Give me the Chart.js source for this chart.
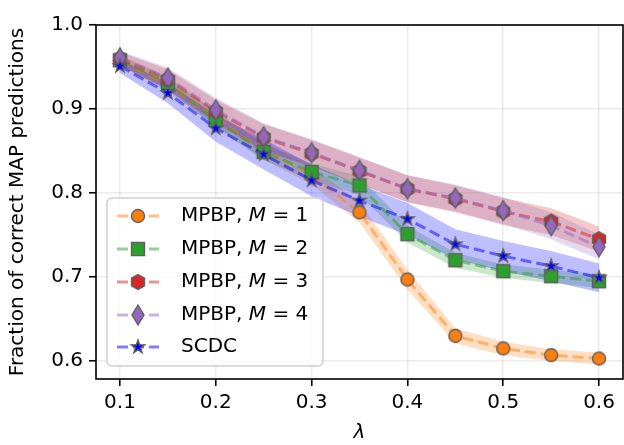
<!DOCTYPE html>
<html>
<head>
<meta charset="utf-8">
<script src="https://cdn.jsdelivr.net/npm/chart.js@4.4.1/dist/chart.umd.min.js"></script>
<style>
  html, body { margin: 0; padding: 0; background: #fff; }
  #wrap { width: 624px; height: 445px; }
</style>
</head>
<body>
<div id="wrap"><canvas id="chart" width="624" height="445"></canvas></div>
<script>
// lambda values (x axis)
const lambdas = [0.1, 0.15, 0.2, 0.25, 0.3, 0.35, 0.4, 0.45, 0.5, 0.55, 0.6];

// mean fraction of correct MAP predictions
const mpbp1 = [0.957, 0.929, 0.889, 0.850, 0.821, 0.777, 0.697, 0.630, 0.615, 0.607, 0.603];
const mpbp2 = [0.958, 0.931, 0.887, 0.849, 0.825, 0.809, 0.751, 0.720, 0.707, 0.701, 0.695];
const mpbp3 = [0.960, 0.935, 0.897, 0.866, 0.847, 0.826, 0.805, 0.793, 0.778, 0.766, 0.745];
const mpbp4 = [0.961, 0.937, 0.899, 0.867, 0.848, 0.827, 0.805, 0.794, 0.779, 0.761, 0.736];
const scdc = [0.951, 0.919, 0.877, 0.846, 0.815, 0.791, 0.769, 0.739, 0.725, 0.713, 0.699];

// half-width of the shaded band around each curve
const mpbp1Err = [0.006, 0.008, 0.009, 0.010, 0.011, 0.012, 0.012, 0.009, 0.008, 0.007, 0.007];
const mpbp2Err = [0.006, 0.008, 0.009, 0.010, 0.010, 0.011, 0.010, 0.009, 0.008, 0.008, 0.008];
const mpbp3Err = [0.008, 0.012, 0.014, 0.016, 0.016, 0.016, 0.016, 0.016, 0.016, 0.016, 0.015];
const mpbp4Err = [0.008, 0.012, 0.014, 0.016, 0.016, 0.016, 0.016, 0.016, 0.016, 0.016, 0.015];
const scdcErr = [0.008, 0.012, 0.016, 0.018, 0.019, 0.019, 0.019, 0.018, 0.018, 0.018, 0.017];

const seriesLabels = ["MPBP, M = 1", "MPBP, M = 2", "MPBP, M = 3", "MPBP, M = 4", "SCDC"];
const xTicks = [0.1, 0.2, 0.3, 0.4, 0.5, 0.6];
const yTicks = [0.6, 0.7, 0.8, 0.9, 1.0];

const FONT = "DejaVu Sans";
const EDGE = "#606060";

// Helper: draw one marker shape onto a small canvas (used as pointStyle).
function makeMarker(shape, fill) {
    const c = document.createElement("canvas");
    c.width = 26;
    c.height = 26;
    const ctx = c.getContext("2d");
    ctx.translate(13, 13);
    ctx.beginPath();
    if (shape === "circle") {
        ctx.arc(0, 0, 6.5, 0, Math.PI * 2);
    } else if (shape === "square") {
        ctx.rect(-6.5, -6.5, 13, 13);
    } else if (shape === "hexagon") {
        for (let k = 0; k < 6; k++) {
            const a = (-90 + 60 * k) * Math.PI / 180;
            ctx.lineTo(7.5 * Math.cos(a), 7.5 * Math.sin(a));
        }
        ctx.closePath();
    } else if (shape === "thin") {
        ctx.moveTo(0, -10);
        ctx.lineTo(6, 0);
        ctx.lineTo(0, 10);
        ctx.lineTo(-6, 0);
        ctx.closePath();
    } else if (shape === "star") {
        for (let k = 0; k < 10; k++) {
            const r = k % 2 === 0 ? 7 : 2.8;
            const a = (-90 + 36 * k) * Math.PI / 180;
            ctx.lineTo(r * Math.cos(a), r * Math.sin(a));
        }
        ctx.closePath();
    }
    ctx.fillStyle = fill;
    ctx.fill();
    ctx.lineWidth = 1.4;
    ctx.strokeStyle = EDGE;
    ctx.stroke();
    return c;
}

const styles = [
    { rgb: "255,127,14", fill: "#ff7f0e", shape: "circle" },
    { rgb: "44,160,44", fill: "#2ca02c", shape: "square" },
    { rgb: "214,39,40", fill: "#d62728", shape: "hexagon" },
    { rgb: "148,103,189", fill: "#9467bd", shape: "thin" },
    { rgb: "0,0,255", fill: "#0000ff", shape: "star" },
];
styles.forEach((s) => { s.marker = makeMarker(s.shape, s.fill); });

const means = [mpbp1, mpbp2, mpbp3, mpbp4, scdc];
const errs = [mpbp1Err, mpbp2Err, mpbp3Err, mpbp4Err, scdcErr];

function points(vals) {
    return lambdas.map((x, i) => ({ x: x, y: vals[i] }));
}

// Bands first (upper fills down to lower), then the dashed lines with markers.
const datasets = [];
means.forEach((m, s) => {
    const up = m.map((v, i) => v + errs[s][i]);
    const lo = m.map((v, i) => v - errs[s][i]);
    datasets.push({
        label: "band-up-" + s,
        data: points(up),
        borderWidth: 0,
        pointRadius: 0,
        fill: "+1",
        backgroundColor: "rgba(" + styles[s].rgb + ",0.25)",
        order: 110 - s,
    });
    datasets.push({
        label: "band-lo-" + s,
        data: points(lo),
        borderWidth: 0,
        pointRadius: 0,
        fill: false,
        order: 110 - s,
    });
});
means.forEach((m, s) => {
    datasets.push({
        label: seriesLabels[s],
        data: points(m),
        borderColor: "rgba(" + styles[s].rgb + ",0.5)",
        borderWidth: 3,
        borderDash: [11, 5],
        pointStyle: styles[s].marker,
        pointRadius: 7,
        fill: false,
        tension: 0,
        order: 10 - s,
    });
});

// Frame around the plot area.
const framePlugin = {
    id: "frame",
    afterDatasetsDraw(chart) {
        const a = chart.chartArea;
        const ctx = chart.ctx;
        ctx.save();
        ctx.strokeStyle = "#000";
        ctx.lineWidth = 1.6;
        ctx.strokeRect(a.left, a.top, a.right - a.left, a.bottom - a.top);
        ctx.restore();
    },
};

// Legend drawn inside the plot, lower left.
const legendPlugin = {
    id: "innerLegend",
    afterDraw(chart) {
        const ctx = chart.ctx;
        const bx = 107, by = 198, bw = 216, bh = 168;
        ctx.save();
        ctx.beginPath();
        ctx.roundRect(bx, by, bw, bh, 5);
        ctx.fillStyle = "rgba(255,255,255,0.8)";
        ctx.fill();
        ctx.lineWidth = 1.5;
        ctx.strokeStyle = "#d0d0d0";
        ctx.stroke();

        const rowY = [216, 249, 282, 315, 347];
        seriesLabels.forEach((lab, s) => {
            const y = rowY[s];
            ctx.beginPath();
            ctx.setLineDash([11, 5]);
            ctx.lineWidth = 3;
            ctx.strokeStyle = "rgba(" + styles[s].rgb + ",0.5)";
            ctx.moveTo(117, y);
            ctx.lineTo(159, y);
            ctx.stroke();
            ctx.setLineDash([]);
            ctx.drawImage(styles[s].marker, 138 - 13, y - 13);

            ctx.fillStyle = "#000";
            ctx.textBaseline = "middle";
            let x = 181;
            const parts = lab.startsWith("MPBP")
                ? [["MPBP, ", "normal"], ["M", "italic"], [lab.slice(7), "normal"]]
                : [[lab, "normal"]];
            parts.forEach(([t, st]) => {
                ctx.font = st + " 20px '" + FONT + "'";
                ctx.fillText(t, x, y);
                x += ctx.measureText(t).width;
            });
        });
        ctx.restore();
    },
};

const gridStyle = {
    color: "rgba(0,0,0,0.08)",
    lineWidth: 1.5,
    tickColor: "#000",
    tickLength: 7,
    tickWidth: 1.6,
    drawTicks: true,
};

Chart.defaults.font.family = FONT;
Chart.defaults.font.size = 20;
Chart.defaults.color = "#000";

new Chart(document.getElementById("chart").getContext("2d"), {
    type: "line",
    data: { datasets: datasets },
    options: {
        responsive: false,
        animation: false,
        events: [],
        layout: { autoPadding: false, padding: { top: 25, right: 1, left: 0, bottom: 0 } },
        plugins: {
            legend: { display: false },
            tooltip: { enabled: false },
        },
        scales: {
            x: {
                type: "linear",
                min: 0.075,
                max: 0.625,
                afterBuildTicks: (scale) => { scale.ticks = xTicks.map((v) => ({ value: v })); },
                afterFit: (scale) => {
                    scale.height = 66;
                    scale.paddingLeft = 0;
                    scale.paddingRight = 0;
                },
                ticks: { padding: 5, maxRotation: 0, callback: (v) => v.toFixed(1) },
                grid: gridStyle,
                border: { display: false },
                title: {
                    display: true,
                    text: "λ",
                    font: { size: 20, style: "italic" },
                    padding: { top: 0, bottom: 0 },
                },
            },
            y: {
                type: "linear",
                min: 0.5786,
                max: 1.0,
                afterBuildTicks: (scale) => { scale.ticks = yTicks.map((v) => ({ value: v })); },
                afterFit: (scale) => {
                    scale.width = 96;
                    scale.paddingTop = 0;
                    scale.paddingBottom = 0;
                },
                ticks: { padding: 6, callback: (v) => v.toFixed(1) },
                grid: gridStyle,
                border: { display: false },
                title: {
                    display: true,
                    text: "Fraction of correct MAP predictions",
                    font: { size: 20 },
                    padding: { top: 6, bottom: 0 },
                },
            },
        },
    },
    plugins: [framePlugin, legendPlugin],
});
</script>
</body>
</html>
